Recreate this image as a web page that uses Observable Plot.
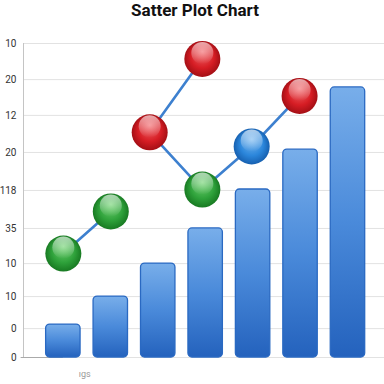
<!DOCTYPE html>
<html>
<head>
<meta charset="utf-8">
<script src="https://cdn.jsdelivr.net/npm/d3@7"></script>
<script src="https://cdn.jsdelivr.net/npm/@observablehq/plot@0.6"></script>
<style>
  html, body { margin: 0; padding: 0; background: #fff; }
  #title { height: 22px; line-height: 20px; font: bold 17px Roboto, "DejaVu Sans", sans-serif; text-align: center; padding-left: 6px; color: #111; box-sizing: border-box; }
  #chart svg { display: block; }
</style>
</head>
<body>
<div id="title">Satter Plot Chart</div>
<div id="chart"></div>
<script>
// ---- data ----
const barCategories = [1, 2, 3, 4, 5, 6, 7];
const barValues = [10.5, 19.4, 29.9, 41.1, 53.5, 66.2, 86];

const yTickValues = [0, 9.2, 19.4, 29.9, 41.1, 53.2, 65.3, 77.1, 88.5, 100];
const yTickLabels = ["0", "0", "10", "10", "35", "118", "20", "12", "20", "10"];

const xTickValues = [1.45];
const xTickLabels = ["ıgs"];

// point series (scatter balls)
const pointX     = [1.0, 2.0, 2.82, 3.93, 3.93, 4.97, 5.98];
const pointY     = [33.1, 46.5, 71.7, 95.1, 53.5, 67.2, 83.3];
const pointColor = ["green", "green", "red", "red", "green", "blue", "red"];

// connecting lines (indices into the points above, in drawing order)
const lineA = [0, 1];
const lineB = [3, 2, 4, 5, 6];

// ---- build tables ----
const bars = barCategories.map((c, i) => ({c, v: barValues[i]}));
const points = pointX.map((x, i) => ({x, y: pointY[i], color: pointColor[i]}));
const lineAData = lineA.map(i => points[i]);
const lineBData = lineB.map(i => points[i]);
const yLabelMap = new Map(yTickValues.map((v, i) => [v, yTickLabels[i]]));
const xLabelMap = new Map(xTickValues.map((v, i) => [v, xTickLabels[i]]));

const gradId = {green: "url(#ballGreen)", red: "url(#ballRed)", blue: "url(#ballBlue)"};

function defs() {
  const ns = "http://www.w3.org/2000/svg";
  const g = document.createElementNS(ns, "defs");
  g.innerHTML = `
    <linearGradient id="barGrad" x1="0" y1="0" x2="0" y2="1">
      <stop offset="0" stop-color="#78aeea"/>
      <stop offset="0.5" stop-color="#4a8ada"/>
      <stop offset="1" stop-color="#2462bd"/>
    </linearGradient>
    <radialGradient id="ballGreen" cx="50%" cy="50%" r="50%" fx="50%" fy="30%">
      <stop offset="0" stop-color="#74d474"/>
      <stop offset="0.65" stop-color="#2ea13a"/>
      <stop offset="1" stop-color="#187a22"/>
    </radialGradient>
    <radialGradient id="ballRed" cx="50%" cy="50%" r="50%" fx="50%" fy="30%">
      <stop offset="0" stop-color="#f26a6e"/>
      <stop offset="0.65" stop-color="#d61d24"/>
      <stop offset="1" stop-color="#a40f15"/>
    </radialGradient>
    <radialGradient id="ballBlue" cx="50%" cy="50%" r="50%" fx="50%" fy="30%">
      <stop offset="0" stop-color="#7dbaf0"/>
      <stop offset="0.65" stop-color="#2b86db"/>
      <stop offset="1" stop-color="#1660b0"/>
    </radialGradient>
    <linearGradient id="gloss" x1="0" y1="0" x2="0" y2="1">
      <stop offset="0" stop-color="#fff" stop-opacity="0.65"/>
      <stop offset="1" stop-color="#fff" stop-opacity="0"/>
    </linearGradient>`;
  return g;
}

const chart = Plot.plot({
  width: 384,
  height: 362,
  marginTop: 21,
  marginBottom: 27,
  marginLeft: 23,
  marginRight: 0,
  style: {fontFamily: "Roboto, 'DejaVu Sans', sans-serif", background: "#fff"},
  x: {type: "linear", domain: [0.16, 7.77], axis: null},
  y: {domain: [0, 100], axis: null},
  color: {type: "identity"},
  marks: [
    defs,
    Plot.gridY(yTickValues, {stroke: "#e2e2e2", strokeOpacity: 1, strokeWidth: 1}),
    Plot.frame({anchor: "left", stroke: "#c4c4c4"}),
    Plot.ruleY([0], {x1: 0.11, x2: 1, stroke: "#aaaaaa", strokeWidth: 1.2}),
    Plot.axisY(yTickValues, {tickSize: 0, tickPadding: 7, fontSize: 10, fill: "#333", label: null,
      tickFormat: d => yLabelMap.get(d)}),
    Plot.axisX(xTickValues, {tickSize: 0, tickPadding: 13, fontSize: 9, fill: "#999", label: null,
      tickFormat: d => xLabelMap.get(d)}),
    Plot.rectY(bars, {x1: d => d.c - 0.5, x2: d => d.c + 0.5, y1: 0, y2: "v",
      insetLeft: 6.5, insetRight: 6.5, rx: 4, fill: "url(#barGrad)",
      stroke: "#2a69c2", strokeWidth: 1.3}),
    Plot.line(lineAData, {x: "x", y: "y", stroke: "#3d80cf", strokeWidth: 2.6}),
    Plot.line(lineBData, {x: "x", y: "y", stroke: "#3d80cf", strokeWidth: 2.6}),
    Plot.dot(points, {x: "x", y: "y", r: 18, fill: d => gradId[d.color], stroke: "none"}),
    Plot.dot(points, {x: "x", y: "y", r: 11, dy: -6, fill: "url(#gloss)", stroke: "none"})
  ]
});
document.getElementById("chart").appendChild(chart);
</script>
</body>
</html>
